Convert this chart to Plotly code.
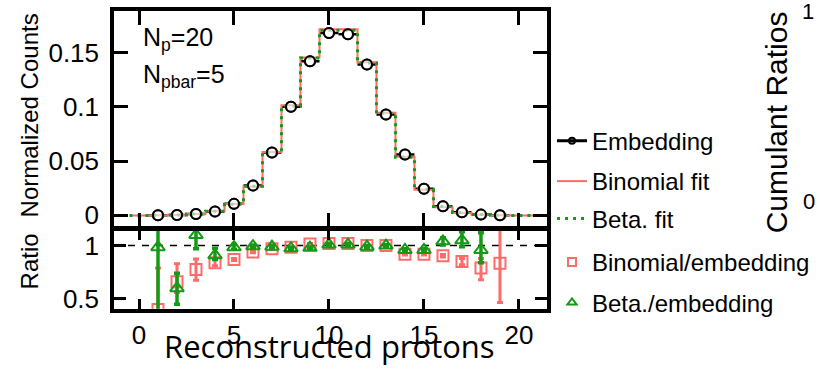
import plotly.graph_objects as go

# ---- data -------------------------------------------------------------
# fit histograms, one value per reconstructed-proton bin (0..21)
bins = list(range(0, 22))
binomial_fit = [0.0000, 0.0001, 0.0003, 0.0012, 0.0040, 0.0105, 0.0265, 0.0585,
                0.1015, 0.1455, 0.1715, 0.1715, 0.1410, 0.0945, 0.0540, 0.0236,
                0.0076, 0.0022, 0.0005, 0.0001, 0.0000, 0.0000]
beta_fit = [0.0000, 0.0002, 0.0004, 0.0013, 0.0038, 0.0102, 0.0268, 0.0580,
            0.1005, 0.1450, 0.1705, 0.1705, 0.1405, 0.0940, 0.0535, 0.0240,
            0.0082, 0.0026, 0.0007, 0.0002, 0.0000, 0.0000]

# embedding distribution
emb_x = list(range(1, 20))
embedding = [0.0002, 0.0004, 0.0012, 0.0035, 0.0106, 0.0275, 0.0580, 0.1000,
             0.1420, 0.1680, 0.1670, 0.1390, 0.0930, 0.0560, 0.0245, 0.0085,
             0.0028, 0.0007, 0.0002]

# Binomial / embedding ratio
rb_x = list(range(1, 20))
rb = [0.400, 0.660, 0.775, 0.840, 0.870, 0.940, 0.970, 0.985, 1.015, 1.020,
      1.020, 1.000, 1.000, 0.920, 0.920, 0.905, 0.850, 0.790, 0.835]
rb_up = [0.39, 0.17, 0.10, 0.03, 0.010, 0.008, 0.006, 0.006, 0.006, 0.006,
         0.006, 0.006, 0.006, 0.008, 0.008, 0.012, 0.030, 0.09, 0.40]
rb_dn = [0.30, 0.10, 0.10, 0.03, 0.010, 0.008, 0.006, 0.006, 0.006, 0.006,
         0.006, 0.006, 0.006, 0.008, 0.008, 0.012, 0.030, 0.11, 0.37]

# Beta / embedding ratio
rt_x = list(range(1, 19))
rt = [0.985, 0.600, 1.100, 0.910, 0.985, 0.995, 0.990, 0.975, 0.980, 1.010,
      1.010, 0.990, 1.000, 0.960, 0.960, 1.040, 1.050, 0.960]
rt_up = [0.60, 0.14, 0.08, 0.065, 0.025, 0.010, 0.008, 0.008, 0.008, 0.008,
         0.008, 0.008, 0.008, 0.010, 0.010, 0.035, 0.080, 0.16]
rt_dn = [0.60, 0.15, 0.13, 0.040, 0.020, 0.010, 0.008, 0.008, 0.008, 0.008,
         0.008, 0.008, 0.008, 0.010, 0.010, 0.035, 0.060, 0.12]

x_ticks = [0, 5, 10, 15, 20]
count_ticks = [0, 0.05, 0.1, 0.15]
ratio_ticks = [0.5, 1]

# ---- styling ----------------------------------------------------------
RED = "#ff6b6b"
GREEN = "#159a15"
FONT = "Liberation Sans, Arial, sans-serif"
W, H = 820, 369


def px_x(p):
    return p / W


def px_y(p):
    return 1 - p / H


# step outlines: bin edges derived from bin centres
edges = [b - 0.5 for b in bins] + [bins[-1] + 0.5]
binom_steps = binomial_fit + [binomial_fit[-1]]
beta_steps = beta_fit + [beta_fit[-1]]

fig = go.Figure()

# ---- top panel --------------------------------------------------------
fig.add_trace(go.Scatter(
    x=emb_x, y=embedding, mode="markers", xaxis="x2", yaxis="y2",
    marker=dict(symbol="circle", size=10, color="white",
                line=dict(color="black", width=2)),
    error_x=dict(type="constant", value=0.5, thickness=2.5, width=0, color="black"),
    showlegend=False, cliponaxis=False))
fig.add_trace(go.Scatter(
    x=edges, y=binom_steps, mode="lines", line_shape="hv", xaxis="x2", yaxis="y2",
    line=dict(color=RED, width=2), showlegend=False))
fig.add_trace(go.Scatter(
    x=edges, y=beta_steps, mode="lines", line_shape="hv", xaxis="x2", yaxis="y2",
    line=dict(color=GREEN, width=3, dash="3px,5px"), showlegend=False))
# redraw markers on top of the fit outlines
fig.add_trace(go.Scatter(
    x=emb_x, y=embedding, mode="markers", xaxis="x2", yaxis="y2",
    marker=dict(symbol="circle", size=10, color="rgba(255,255,255,0.6)",
                line=dict(color="black", width=2)),
    showlegend=False))

# ---- bottom panel -----------------------------------------------------
fig.add_trace(go.Scatter(
    x=rb_x, y=rb, mode="markers", xaxis="x", yaxis="y",
    marker=dict(symbol="square-open", size=11, color=RED, line=dict(width=2)),
    error_y=dict(type="data", symmetric=False, array=rb_up, arrayminus=rb_dn,
                 thickness=3, width=3, color=RED),
    showlegend=False))
fig.add_trace(go.Scatter(
    x=rt_x, y=rt, mode="markers", xaxis="x", yaxis="y",
    marker=dict(symbol="triangle-up-open", size=12, color=GREEN, line=dict(width=2)),
    error_y=dict(type="data", symmetric=False, array=rt_up, arrayminus=rt_dn,
                 thickness=3.5, width=3, color=GREEN),
    showlegend=False))

# ---- legend entries (one legend box each, stacked at the right) -------
legend_items = [
    ("Embedding", dict(mode="lines+markers", line=dict(color="black", width=3),
                       marker=dict(symbol="circle-open", size=6, color="black",
                                   line=dict(width=2)))),
    ("Binomial fit", dict(mode="lines", line=dict(color=RED, width=2))),
    ("Beta. fit", dict(mode="lines", line=dict(color=GREEN, width=3, dash="3px,5px"))),
    ("Binomial/embedding", dict(mode="markers",
                                marker=dict(symbol="square-open", size=8, color=RED,
                                            line=dict(width=2)))),
    ("Beta./embedding", dict(mode="markers",
                             marker=dict(symbol="triangle-up-open", size=8, color=GREEN,
                                         line=dict(width=2)))),
]
legend_rows = [143, 184, 222, 266, 307]
legend_layout = {}
for i, ((name, style), row) in enumerate(zip(legend_items, legend_rows)):
    key = "legend" if i == 0 else f"legend{i + 1}"
    fig.add_trace(go.Scatter(x=[None], y=[None], name=name, legend=key,
                             showlegend=True, xaxis="x", yaxis="y", **style))
    legend_layout[key] = dict(
        x=px_x(552), y=px_y(row), xanchor="left", yanchor="middle",
        bgcolor="rgba(0,0,0,0)", borderwidth=0, itemwidth=30,
        font=dict(family=FONT, size=24, color="black"))

# ---- axes -------------------------------------------------------------
x_dom = [px_x(114), px_x(546.5)]
axis_common = dict(showline=True, linewidth=3.5, linecolor="black", mirror="ticks",
                   ticks="inside", tickwidth=3, tickcolor="black",
                   showgrid=False, zeroline=False)

fig.update_layout(
    width=W, height=H, margin=dict(l=0, r=0, t=0, b=0),
    paper_bgcolor="white", plot_bgcolor="white",
    font=dict(family=FONT, color="black"),
    xaxis=dict(domain=x_dom, anchor="y", range=[-1.316, 21.45], tickvals=x_ticks,
               ticklen=10, tickfont=dict(size=26), **axis_common),
    xaxis2=dict(domain=x_dom, anchor="y2", matches="x", range=[-1.316, 21.45],
                tickvals=x_ticks, ticklen=14, showticklabels=False, **axis_common),
    yaxis=dict(domain=[px_y(313), px_y(233.5)], anchor="x", range=[0.407, 1.1435],
               tickvals=ratio_ticks, ticklen=12, tickfont=dict(size=26),
               ticklabelstandoff=6, **axis_common),
    yaxis2=dict(domain=[px_y(230), px_y(11.5)], anchor="x2", range=[-0.0106, 0.188],
                tickvals=count_ticks, ticklen=14, tickfont=dict(size=26),
                ticklabelstandoff=6, **axis_common),
    **legend_layout,
)

# reference line at unit ratio
fig.add_shape(type="line", xref="x domain", x0=0, x1=1, yref="y", y0=1, y1=1,
              line=dict(color="black", width=1.5, dash="7px,7px"), layer="below")

# ---- text -------------------------------------------------------------
annotations = [
    dict(text="N<sub>p</sub>=20", x=px_x(141), y=px_y(40), xanchor="left",
         yanchor="middle", font=dict(size=25)),
    dict(text="N<sub>pbar</sub>=5", x=px_x(141), y=px_y(77), xanchor="left",
         yanchor="middle", font=dict(size=25)),
    dict(text="Normalized Counts", x=px_x(29), y=px_y(117), textangle=-90,
         xanchor="center", yanchor="middle", font=dict(size=24)),
    dict(text="Ratio", x=px_x(29), y=px_y(265), textangle=-90,
         xanchor="center", yanchor="middle", font=dict(size=24)),
    dict(text="Reconstructed protons", x=px_x(329), y=px_y(351),
         xanchor="center", yanchor="middle",
         font=dict(family="Open Sans, Lato, sans-serif", size=31)),
    dict(text="Cumulant Ratios", x=px_x(776), y=px_y(124), textangle=-90,
         xanchor="center", yanchor="middle", font=dict(size=30)),
    dict(text="1", x=px_x(808), y=px_y(12), xanchor="center", yanchor="middle",
         font=dict(size=22)),
    dict(text="0", x=px_x(809), y=px_y(204), xanchor="center", yanchor="middle",
         font=dict(size=22)),
]
for a in annotations:
    fig.add_annotation(xref="paper", yref="paper", showarrow=False, **a)

fig.write_html("out.html")
